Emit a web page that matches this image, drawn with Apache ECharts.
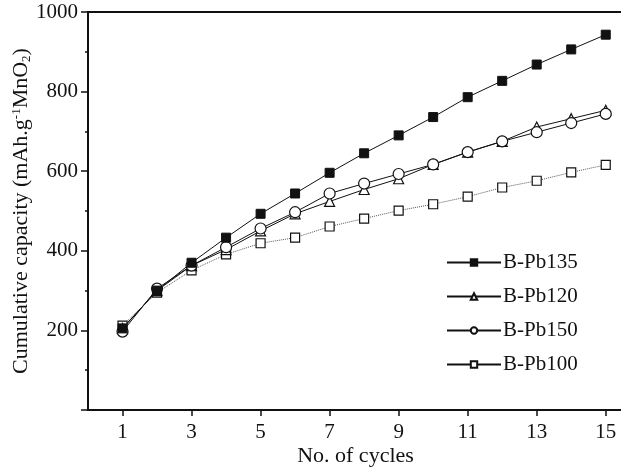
<!DOCTYPE html>
<html>
<head>
<meta charset="utf-8">
<script src="https://cdn.jsdelivr.net/npm/echarts@6/dist/echarts.min.js"></script>
<style>
  html, body { margin: 0; padding: 0; background: #fff; }
  #chart { width: 621px; height: 468px; }
</style>
</head>
<body>
<div id="chart"></div>
<script>
// cycle numbers
const cycles = [1, 2, 3, 4, 5, 6, 7, 8, 9, 10, 11, 12, 13, 14, 15];
// cumulative capacity, mAh/g MnO2
const pb135 = [205, 300, 370, 433, 493, 544, 596, 645, 690, 736, 786, 827, 868, 906, 943];
const pb120 = [205, 300, 363, 403, 450, 493, 524, 554, 581, 617, 648, 675, 711, 732, 753];
const pb150 = [197, 305, 363, 409, 456, 497, 544, 569, 593, 617, 648, 675, 698, 721, 744];
const pb100 = [212, 295, 351, 391, 419, 433, 461, 481, 501, 517, 536, 559, 576, 597, 616];
// tick labels
const xTicks = [1, 3, 5, 7, 9, 11, 13, 15];
const yTicks = [200, 400, 600, 800, 1000];

const FONT = 'Liberation Serif';

function pairs(ys) {
  return cycles.map((c, i) => [c, ys[i]]);
}

const chart = echarts.init(document.getElementById('chart'));

chart.setOption({
  animation: false,
  backgroundColor: '#fff',
  textStyle: { fontFamily: FONT, color: '#111' },
  grid: {
    left: 88, right: -2, top: 12, bottom: 58,
    containLabel: false, outerBoundsMode: 'none',
    show: true, borderColor: '#111', borderWidth: 2, backgroundColor: 'transparent'
  },
  legend: {
    orient: 'vertical',
    left: 446, top: 252, padding: 0,
    itemWidth: 54, itemHeight: 8, itemGap: 13,
    textStyle: { fontFamily: FONT, fontSize: 21, color: '#111', padding: [0, 0, 0, -3] },
    data: [
      { name: 'B-Pb135' },
      { name: 'B-Pb120' },
      { name: 'B-Pb150' },
      { name: 'B-Pb100', lineStyle: { type: 'solid', color: '#111' } }
    ]
  },
  xAxis: {
    type: 'value', min: 0, max: 15.5,
    name: 'No. of cycles', nameLocation: 'middle', nameGap: 35, nameMoveOverlap: false,
    nameTextStyle: { fontFamily: FONT, fontSize: 22, color: '#111' },
    axisLine: { lineStyle: { color: '#111', width: 2 } },
    axisTick: { show: true, length: 6, customValues: xTicks, lineStyle: { color: '#111', width: 1.5 } },
    axisLabel: { customValues: xTicks, fontFamily: FONT, fontSize: 21, color: '#111', margin: 12 },
    splitLine: { show: false }
  },
  yAxis: {
    type: 'value', min: 0, max: 1000, interval: 200,
    name: 'Cumulative capacity (mAh.g{sup|-1}MnO{sub|2})',
    nameLocation: 'middle', nameGap: 55, nameMoveOverlap: false,
    nameTextStyle: {
      fontFamily: FONT, fontSize: 22, color: '#111',
      rich: {
        sup: { fontFamily: FONT, fontSize: 13, color: '#111', verticalAlign: 'top', padding: [0, 0, 10, 0] },
        sub: { fontFamily: FONT, fontSize: 13, color: '#111', verticalAlign: 'bottom', padding: [8, 0, 0, 0] }
      }
    },
    axisLine: { show: true, lineStyle: { color: '#111', width: 2 } },
    axisTick: { show: true, length: 7, lineStyle: { color: '#111', width: 1.5 } },
    minorTick: { show: true, splitNumber: 2, length: 3, lineStyle: { color: '#111', width: 1.5 } },
    axisLabel: {
      customValues: yTicks, fontFamily: FONT, fontSize: 21, color: '#111', margin: 10,
      formatter: v => String(v)
    },
    splitLine: { show: false }
  },
  series: [
    {
      name: 'B-Pb100', type: 'line', data: pairs(pb100),
      symbol: 'rect', symbolSize: 9, showAllSymbol: true,
      lineStyle: { color: '#555', width: 1, type: 'dotted' },
      itemStyle: { color: '#fff', borderColor: '#111', borderWidth: 1.2 }
    },
    {
      name: 'B-Pb120', type: 'line', data: pairs(pb120),
      symbol: 'triangle', symbolSize: 10,
      lineStyle: { color: '#111', width: 1 },
      itemStyle: { color: '#fff', borderColor: '#111', borderWidth: 1.2 }
    },
    {
      name: 'B-Pb150', type: 'line', data: pairs(pb150),
      symbol: 'circle', symbolSize: 11,
      lineStyle: { color: '#111', width: 1 },
      itemStyle: { color: '#fff', borderColor: '#111', borderWidth: 1.2 }
    },
    {
      name: 'B-Pb135', type: 'line', data: pairs(pb135),
      symbol: 'rect', symbolSize: 9,
      lineStyle: { color: '#111', width: 1 },
      itemStyle: { color: '#111', borderColor: '#111', borderWidth: 1 }
    }
  ]
});
</script>
</body>
</html>
